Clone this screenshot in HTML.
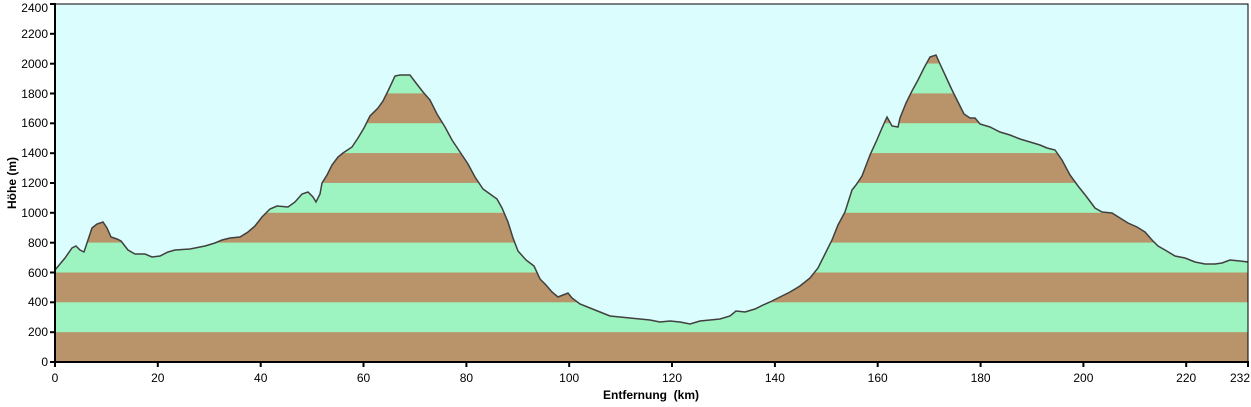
<!DOCTYPE html>
<html><head><meta charset="utf-8"><style>body{margin:0;background:#fff}svg{display:block}</style></head>
<body>
<svg width="1251" height="407" xmlns="http://www.w3.org/2000/svg" font-family="Liberation Sans, sans-serif" font-size="12">
<defs>
<clipPath id="c"><polygon points="55,362 55,270 65,258 72,248 76,246 80,250 84,252 88,240 92,228 97,224 103,222 107,228 111,237 117,239 121,241 128,250 135,254 145,254 152,257 160,256 168,252 175,250 190,249 205,246 215,243 222,240 230,238 240,237 248,232 255,226 262,217 270,209 277,206 288,207 295,202 302,194 308,192 313,197 316,202 320,194 322,183 327,175 332,165 338,157 343,153 352,147 358,138 364,128 370,116 378,108 383,101 388,91 395,76 400,75 410,75 416,83 423,92 430,100 437,114 445,127 452,140 460,152 468,164 475,177 483,189 490,194 497,199 502,208 508,222 513,238 518,251 526,260 534,266 540,279 546,285 552,292 558,297 563,295 568,293 572,298 580,304 590,308 600,312 610,316 630,318 650,320 660,322 670,321 680,322 690,324 700,321 710,320 720,319 730,316 736,311 745,312 755,309 763,305 770,302 780,297 790,292 800,286 810,278 818,268 825,254 832,240 838,225 845,212 852,190 856,185 862,176 870,155 876,142 882,128 887,117 892,126 898,127 900,118 906,103 912,91 918,80 924,68 930,57 936,55 940,64 946,77 952,90 958,102 964,114 970,118 975,118 980,124 990,127 1000,132 1010,135 1020,139 1030,142 1040,145 1047,148 1055,150 1062,160 1070,175 1078,186 1086,196 1095,208 1102,212 1112,213 1120,218 1128,223 1137,227 1145,232 1152,240 1158,246 1165,250 1175,256 1185,258 1195,262 1205,264 1215,264 1222,263 1230,260 1240,261 1248,262 1248,362"/></clipPath>
</defs>
<rect x="55" y="4" width="1193" height="358" fill="#dbfdfd"/>
<g clip-path="url(#c)">
<rect x="55" y="0" width="1193" height="362" fill="#9ef4c0"/>
<rect x="55" y="332.2" width="1193" height="29.8" fill="#b9936a"/>
<rect x="55" y="272.5" width="1193" height="29.8" fill="#b9936a"/>
<rect x="55" y="212.8" width="1193" height="29.8" fill="#b9936a"/>
<rect x="55" y="153.1" width="1193" height="29.8" fill="#b9936a"/>
<rect x="55" y="93.4" width="1193" height="29.8" fill="#b9936a"/>
<rect x="55" y="33.7" width="1193" height="29.8" fill="#b9936a"/>
</g>
<polyline fill="none" stroke="#404040" stroke-width="1.5" points="55,270 65,258 72,248 76,246 80,250 84,252 88,240 92,228 97,224 103,222 107,228 111,237 117,239 121,241 128,250 135,254 145,254 152,257 160,256 168,252 175,250 190,249 205,246 215,243 222,240 230,238 240,237 248,232 255,226 262,217 270,209 277,206 288,207 295,202 302,194 308,192 313,197 316,202 320,194 322,183 327,175 332,165 338,157 343,153 352,147 358,138 364,128 370,116 378,108 383,101 388,91 395,76 400,75 410,75 416,83 423,92 430,100 437,114 445,127 452,140 460,152 468,164 475,177 483,189 490,194 497,199 502,208 508,222 513,238 518,251 526,260 534,266 540,279 546,285 552,292 558,297 563,295 568,293 572,298 580,304 590,308 600,312 610,316 630,318 650,320 660,322 670,321 680,322 690,324 700,321 710,320 720,319 730,316 736,311 745,312 755,309 763,305 770,302 780,297 790,292 800,286 810,278 818,268 825,254 832,240 838,225 845,212 852,190 856,185 862,176 870,155 876,142 882,128 887,117 892,126 898,127 900,118 906,103 912,91 918,80 924,68 930,57 936,55 940,64 946,77 952,90 958,102 964,114 970,118 975,118 980,124 990,127 1000,132 1010,135 1020,139 1030,142 1040,145 1047,148 1055,150 1062,160 1070,175 1078,186 1086,196 1095,208 1102,212 1112,213 1120,218 1128,223 1137,227 1145,232 1152,240 1158,246 1165,250 1175,256 1185,258 1195,262 1205,264 1215,264 1222,263 1230,260 1240,261 1248,262"/>
<rect x="55" y="4" width="1193" height="358" fill="none" stroke="#000" stroke-width="1"/>
<line x1="55" y1="3" x2="55" y2="363" stroke="#000" stroke-width="2"/>
<line x1="54" y1="362" x2="1249" y2="362" stroke="#000" stroke-width="2"/>
<g stroke="#000" stroke-width="2">
<line x1="50" y1="362" x2="55" y2="362"/><line x1="50" y1="332.2" x2="55" y2="332.2"/><line x1="50" y1="302.3" x2="55" y2="302.3"/><line x1="50" y1="272.5" x2="55" y2="272.5"/><line x1="50" y1="242.7" x2="55" y2="242.7"/><line x1="50" y1="212.8" x2="55" y2="212.8"/><line x1="50" y1="183" x2="55" y2="183"/><line x1="50" y1="153.2" x2="55" y2="153.2"/><line x1="50" y1="123.3" x2="55" y2="123.3"/><line x1="50" y1="93.5" x2="55" y2="93.5"/><line x1="50" y1="63.7" x2="55" y2="63.7"/><line x1="50" y1="33.8" x2="55" y2="33.8"/><line x1="50" y1="4" x2="55" y2="4"/>
<line x1="55" y1="362" x2="55" y2="367"/><line x1="157.8" y1="362" x2="157.8" y2="367"/><line x1="260.7" y1="362" x2="260.7" y2="367"/><line x1="363.5" y1="362" x2="363.5" y2="367"/><line x1="466.4" y1="362" x2="466.4" y2="367"/><line x1="569.2" y1="362" x2="569.2" y2="367"/><line x1="672" y1="362" x2="672" y2="367"/><line x1="774.9" y1="362" x2="774.9" y2="367"/><line x1="877.7" y1="362" x2="877.7" y2="367"/><line x1="980.6" y1="362" x2="980.6" y2="367"/><line x1="1083.4" y1="362" x2="1083.4" y2="367"/><line x1="1186.2" y1="362" x2="1186.2" y2="367"/><line x1="1248" y1="362" x2="1248" y2="367"/>
</g>
<g text-anchor="end">
<text x="48" y="366">0</text><text x="48" y="336">200</text><text x="48" y="306">400</text><text x="48" y="277">600</text><text x="48" y="247">800</text><text x="48" y="217">1000</text><text x="48" y="187">1200</text><text x="48" y="157">1400</text><text x="48" y="127">1600</text><text x="48" y="98">1800</text><text x="48" y="68">2000</text><text x="48" y="38">2200</text><text x="48" y="12">2400</text>
</g>
<g text-anchor="middle">
<text x="55" y="382">0</text><text x="157.8" y="382">20</text><text x="260.7" y="382">40</text><text x="363.5" y="382">60</text><text x="466.4" y="382">80</text><text x="569.2" y="382">100</text><text x="672" y="382">120</text><text x="774.9" y="382">140</text><text x="877.7" y="382">160</text><text x="980.6" y="382">180</text><text x="1083.4" y="382">200</text><text x="1186.2" y="382">220</text><text x="1240" y="382">232</text>
<text x="651" y="399" font-weight="bold" xml:space="preserve">Entfernung  (km)</text>
<text transform="translate(16,183) rotate(-90)" font-weight="bold">Höhe (m)</text>
</g>
</svg>
</body></html>
